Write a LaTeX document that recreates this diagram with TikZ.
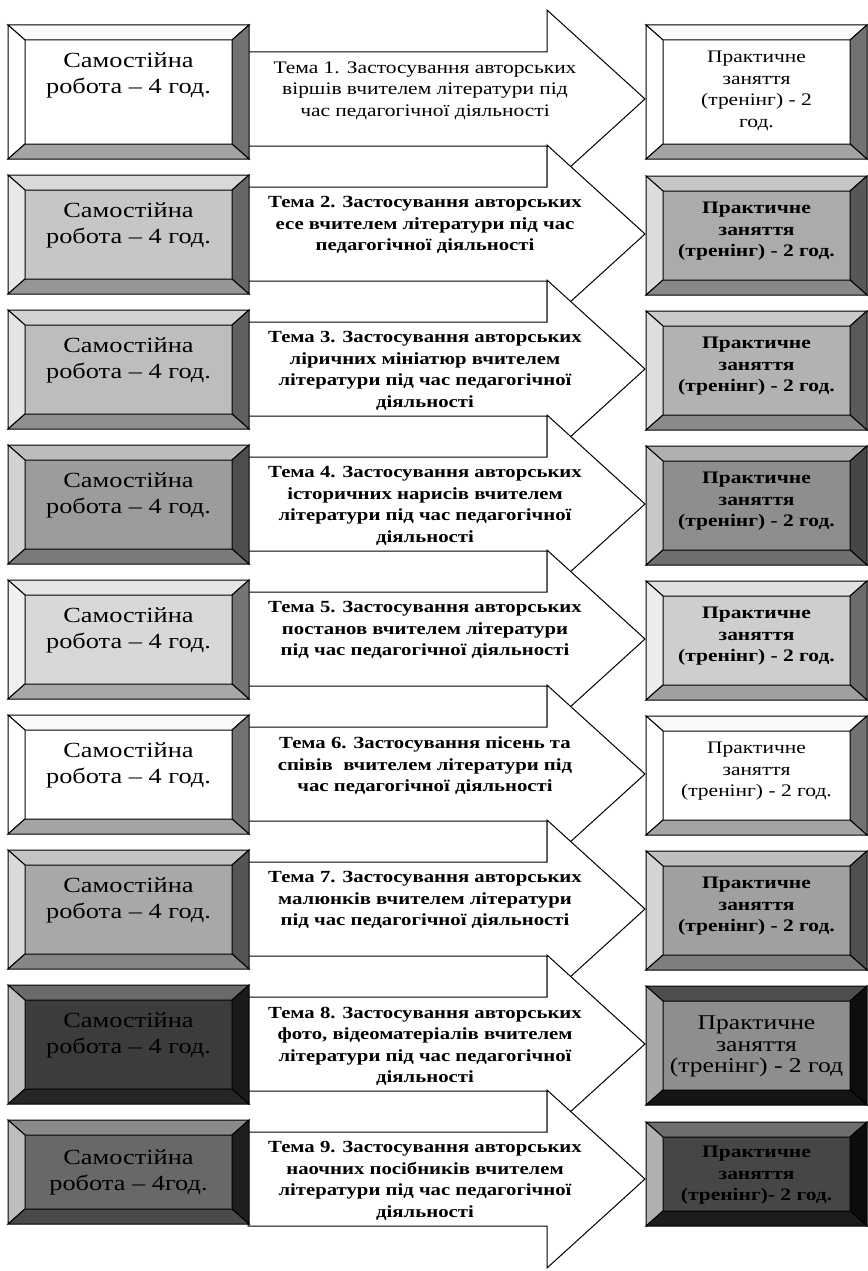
\documentclass[tikz,border=0pt]{standalone}
\usepackage{fontspec}
\usetikzlibrary{calc}
\newfontfamily\tnr{Liberation Serif}[FakeStretch=1.22]
\newcommand\bvx{17}
\newcommand\bvy{15}
\tikzset{
  bevbox/.style={rectangle, draw=black, line width=1pt, inner sep=0pt, anchor=north west},
  bevedge/.style={draw=black, line width=1pt, line join=miter},
  ltext/.style={font=\tnr\fontsize{21.6}{26}\selectfont, align=center, anchor=north, inner sep=0pt},
  rtext/.style={font=\tnr\bfseries\fontsize{17.6}{21.5}\selectfont, align=center, anchor=north, inner sep=0pt},
  rtextreg/.style={font=\tnr\fontsize{17.6}{21.5}\selectfont, align=center, anchor=north, inner sep=0pt},
  atext/.style={font=\tnr\bfseries\fontsize{17}{21.5}\selectfont, align=center, anchor=north, inner sep=0pt},
  atextreg/.style={font=\tnr\fontsize{17.6}{21.5}\selectfont, align=center, anchor=north, inner sep=0pt},
  arrowshape/.style={draw=black, fill=white, line width=1pt, line join=miter},
}
% bevel: node, top, left, right, bottom colours
\newcommand\bev[5]{%
  \coordinate (o1) at (#1.north west);
  \coordinate (o2) at (#1.north east);
  \coordinate (o3) at (#1.south east);
  \coordinate (o4) at (#1.south west);
  \coordinate (i1) at ($(o1)+(\bvx,\bvy)$);
  \coordinate (i2) at ($(o2)+(-\bvx,\bvy)$);
  \coordinate (i3) at ($(o3)+(-\bvx,-\bvy)$);
  \coordinate (i4) at ($(o4)+(\bvx,-\bvy)$);
  \filldraw[bevedge, fill=#2] (o1)--(o2)--(i2)--(i1)--cycle;
  \filldraw[bevedge, fill=#3] (o1)--(i1)--(i4)--(o4)--cycle;
  \filldraw[bevedge, fill=#4] (o2)--(o3)--(i3)--(i2)--cycle;
  \filldraw[bevedge, fill=#5] (o4)--(o3)--(i3)--(i4)--cycle;
}
\newcommand\bigarrow[1]{%
  \draw[arrowshape] ($(#1)+(-397,-47)$) -- ($(#1)+(-98,-47)$) -- ($(#1)+(-98,-89)$) -- (#1)
    -- ($(#1)+(-98,89)$) -- ($(#1)+(-98,47)$) -- ($(#1)+(-397,47)$) -- cycle;}
\definecolor{wF}{HTML}{FFFFFF}\definecolor{wT}{HTML}{FAFAFA}\definecolor{wL}{HTML}{FFFFFF}\definecolor{wR}{HTML}{727272}\definecolor{wB}{HTML}{A4A4A4}
\definecolor{aF}{HTML}{C6C6C6}\definecolor{aT}{HTML}{D9D9D9}\definecolor{aL}{HTML}{E8E8E8}\definecolor{aR}{HTML}{666666}\definecolor{aB}{HTML}{969696}
\definecolor{bF}{HTML}{ABABAB}\definecolor{bT}{HTML}{C6C6C6}\definecolor{bL}{HTML}{DCDCDC}\definecolor{bR}{HTML}{575757}\definecolor{bB}{HTML}{888888}
\definecolor{cF}{HTML}{BDBDBD}\definecolor{cT}{HTML}{D2D2D2}\definecolor{cL}{HTML}{E4E4E4}\definecolor{cR}{HTML}{606060}\definecolor{cB}{HTML}{909090}
\definecolor{dF}{HTML}{B2B2B2}\definecolor{dT}{HTML}{CACACA}\definecolor{dL}{HTML}{DEDEDE}\definecolor{dR}{HTML}{5A5A5A}\definecolor{dB}{HTML}{8A8A8A}
\definecolor{eF}{HTML}{9C9C9C}\definecolor{eT}{HTML}{BCBCBC}\definecolor{eL}{HTML}{D2D2D2}\definecolor{eR}{HTML}{4E4E4E}\definecolor{eB}{HTML}{7A7A7A}
\definecolor{fF}{HTML}{8E8E8E}\definecolor{fT}{HTML}{B0B0B0}\definecolor{fL}{HTML}{C8C8C8}\definecolor{fR}{HTML}{464646}\definecolor{fB}{HTML}{6E6E6E}
\definecolor{gF}{HTML}{D8D8D8}\definecolor{gT}{HTML}{E6E6E6}\definecolor{gL}{HTML}{F0F0F0}\definecolor{gR}{HTML}{747474}\definecolor{gB}{HTML}{A8A8A8}
\definecolor{hF}{HTML}{CECECE}\definecolor{hT}{HTML}{E0E0E0}\definecolor{hL}{HTML}{ECECEC}\definecolor{hR}{HTML}{6C6C6C}\definecolor{hB}{HTML}{A0A0A0}
\definecolor{iF}{HTML}{A8A8A8}\definecolor{iT}{HTML}{C4C4C4}\definecolor{iL}{HTML}{DADADA}\definecolor{iR}{HTML}{555555}\definecolor{iB}{HTML}{868686}
\definecolor{jF}{HTML}{A0A0A0}\definecolor{jT}{HTML}{BEBEBE}\definecolor{jL}{HTML}{D4D4D4}\definecolor{jR}{HTML}{505050}\definecolor{jB}{HTML}{7E7E7E}
\definecolor{kF}{HTML}{3C3C3C}\definecolor{kT}{HTML}{6A6A6A}\definecolor{kL}{HTML}{C0C0C0}\definecolor{kR}{HTML}{1A1A1A}\definecolor{kB}{HTML}{262626}
\definecolor{mF}{HTML}{8E8E8E}\definecolor{mT}{HTML}{4E4E4E}\definecolor{mL}{HTML}{A8A8A8}\definecolor{mR}{HTML}{0E0E0E}\definecolor{mB}{HTML}{151515}
\definecolor{nF}{HTML}{686868}\definecolor{nT}{HTML}{8A8A8A}\definecolor{nL}{HTML}{BDBDBD}\definecolor{nR}{HTML}{1E1E1E}\definecolor{nB}{HTML}{4A4A4A}
\definecolor{pF}{HTML}{464646}\definecolor{pT}{HTML}{6E6E6E}\definecolor{pL}{HTML}{B0B0B0}\definecolor{pR}{HTML}{0C0C0C}\definecolor{pB}{HTML}{1C1C1C}
\begin{document}
\begin{tikzpicture}[x=1pt,y=-1pt]
\useasboundingbox[fill=white] (0,0) rectangle (867,1271);
% arrows with their texts (each later arrow covers the previous head)
\coordinate (t1) at (645,99);
\bigarrow{t1}
\node[atextreg] (a1) at ($(t1)+(-220,-37.5)$) {Тема 1. Застосування авторських\\віршів вчителем літератури під\\час педагогічної діяльності};
\coordinate (t2) at (645,234);
\bigarrow{t2}
\node[atext] (a2) at ($(t2)+(-220,-37.5)$) {Тема 2. Застосування авторських\\есе вчителем літератури під час\\педагогічної діяльності};
\coordinate (t3) at (645,369);
\bigarrow{t3}
\node[atext] (a3) at ($(t3)+(-220,-37.5)$) {Тема 3. Застосування авторських\\ліричних мініатюр вчителем\\літератури під час педагогічної\\діяльності};
\coordinate (t4) at (645,504);
\bigarrow{t4}
\node[atext] (a4) at ($(t4)+(-220,-37.5)$) {Тема 4. Застосування авторських\\історичних нарисів вчителем\\літератури під час педагогічної\\діяльності};
\coordinate (t5) at (645,639);
\bigarrow{t5}
\node[atext] (a5) at ($(t5)+(-220,-37.5)$) {Тема 5. Застосування авторських\\постанов вчителем літератури\\під час педагогічної діяльності};
\coordinate (t6) at (645,774);
\bigarrow{t6}
\node[atext] (a6) at ($(t6)+(-220,-37.5)$) {Тема 6. Застосування пісень та\\співів \ вчителем літератури під\\час педагогічної діяльності};
\coordinate (t7) at (645,909);
\bigarrow{t7}
\node[atext] (a7) at ($(t7)+(-220,-37.5)$) {Тема 7. Застосування авторських\\малюнків вчителем літератури\\під час педагогічної діяльності};
\coordinate (t8) at (645,1044);
\bigarrow{t8}
\node[atext] (a8) at ($(t8)+(-220,-37.5)$) {Тема 8. Застосування авторських\\фото, відеоматеріалів вчителем\\літератури під час педагогічної\\діяльності};
\coordinate (t9) at (645,1179);
\bigarrow{t9}
\node[atext] (a9) at ($(t9)+(-220,-37.5)$) {Тема 9. Застосування авторських\\наочних посібників вчителем\\літератури під час педагогічної\\діяльності};
% left boxes
\node[bevbox, fill=wF, minimum width=240pt, minimum height=133pt] (L1) at (8,25) {};
\bev{L1}{wT}{wL}{wR}{wB}
\node[bevbox, fill=aF, minimum width=240pt, minimum height=118pt] (L2) at (8,175) {};
\bev{L2}{aT}{aL}{aR}{aB}
\node[bevbox, fill=cF, minimum width=240pt, minimum height=118pt] (L3) at (8,310) {};
\bev{L3}{cT}{cL}{cR}{cB}
\node[bevbox, fill=eF, minimum width=240pt, minimum height=118pt] (L4) at (8,445) {};
\bev{L4}{eT}{eL}{eR}{eB}
\node[bevbox, fill=gF, minimum width=240pt, minimum height=118pt] (L5) at (8,580) {};
\bev{L5}{gT}{gL}{gR}{gB}
\node[bevbox, fill=wF, minimum width=240pt, minimum height=118pt] (L6) at (8,715) {};
\bev{L6}{wT}{wL}{wR}{wB}
\node[bevbox, fill=iF, minimum width=240pt, minimum height=118pt] (L7) at (8,850) {};
\bev{L7}{iT}{iL}{iR}{iB}
\node[bevbox, fill=kF, minimum width=240pt, minimum height=118pt] (L8) at (8,985) {};
\bev{L8}{kT}{kL}{kR}{kB}
\node[bevbox, fill=nF, minimum width=240pt, minimum height=103pt] (L9) at (8,1120) {};
\bev{L9}{nT}{nL}{nR}{nB}
% right boxes
\node[bevbox, fill=wF, minimum width=220pt, minimum height=133pt] (R1) at (646,25) {};
\bev{R1}{wT}{wL}{wR}{wB}
\node[bevbox, fill=bF, minimum width=220pt, minimum height=118pt] (R2) at (646,176) {};
\bev{R2}{bT}{bL}{bR}{bB}
\node[bevbox, fill=dF, minimum width=220pt, minimum height=118pt] (R3) at (646,311) {};
\bev{R3}{dT}{dL}{dR}{dB}
\node[bevbox, fill=fF, minimum width=220pt, minimum height=118pt] (R4) at (646,446) {};
\bev{R4}{fT}{fL}{fR}{fB}
\node[bevbox, fill=hF, minimum width=220pt, minimum height=118pt] (R5) at (646,581) {};
\bev{R5}{hT}{hL}{hR}{hB}
\node[bevbox, fill=wF, minimum width=220pt, minimum height=118pt] (R6) at (646,716) {};
\bev{R6}{wT}{wL}{wR}{wB}
\node[bevbox, fill=jF, minimum width=220pt, minimum height=118pt] (R7) at (646,851) {};
\bev{R7}{jT}{jL}{jR}{jB}
\node[bevbox, fill=mF, minimum width=220pt, minimum height=118pt] (R8) at (646,986) {};
\bev{R8}{mT}{mL}{mR}{mB}
\node[bevbox, fill=pF, minimum width=220pt, minimum height=103pt] (R9) at (646,1122) {};
\bev{R9}{pT}{pL}{pR}{pB}
% left texts
\foreach \i in {1,...,8}{
  \node[ltext] (lt\i) at ($(L\i.north)+(0,27.3)$) {Самостійна\\робота – 4 год.};
}
\node[ltext] (lt9) at ($(L9.north)+(0,29)$) {Самостійна\\робота – 4год.};
% right texts
\node[rtextreg] (rt1) at ($(R1.north)+(0,26)$) {Практичне\\заняття\\(тренінг) - 2\\год.};
\foreach \i in {2,3,4,5,7}{
  \node[rtext] (rt\i) at ($(R\i.north)+(0,26)$) {Практичне\\заняття\\(тренінг) - 2 год.};
}
\node[rtextreg] (rt6) at ($(R6.north)+(0,26)$) {Практичне\\заняття\\(тренінг) - 2 год.};
\node[font=\tnr\fontsize{21}{21.5}\selectfont, align=center, anchor=north, inner sep=0pt] (rt8) at ($(R8.north)+(0,30)$) {Практичне\\заняття\\(тренінг) - 2 год};
\node[rtext] (rt9) at ($(R9.north)+(0,24)$) {Практичне\\заняття\\(тренінг)- 2 год.};
\end{tikzpicture}
\end{document}
